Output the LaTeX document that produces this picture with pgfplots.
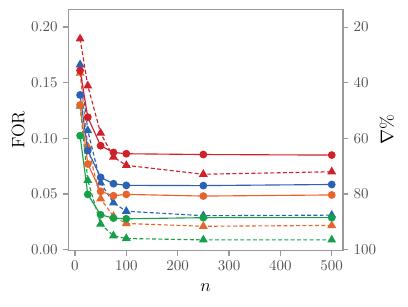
\documentclass[border=0pt]{standalone}
\usepackage{pgfplots}
\pgfplotsset{compat=1.18}
\definecolor{cred}{HTML}{D0202A}
\definecolor{cblue}{HTML}{2B62B4}
\definecolor{corange}{HTML}{E8642C}
\definecolor{cgreen}{HTML}{16A04A}
\definecolor{axgray}{HTML}{9A9A9A}
\definecolor{tickgray}{HTML}{555555}
\pgfplotsset{
  tri/.style={dashed, dash pattern=on 2.6pt off 1.6pt, line width=0.75pt, mark=triangle*, mark size=2.7pt, mark options={solid}},
  circ/.style={solid, line width=0.75pt, mark=*, mark size=2.2pt},
}
\begin{document}
\begin{tikzpicture}
\useasboundingbox (-45.5pt,-36.9pt) rectangle (226.4pt,167.1pt);
% right axis (nabla %)
\begin{axis}[at={(0,0)}, anchor=south west, scale only axis,
  width=183.1pt, height=160.9pt,
  xmin=-13, xmax=522, ymin=13.6, ymax=100.4, y dir=reverse,
  axis x line=none, axis y line*=right,
  axis line style={-, draw=axgray, line width=0.8pt},
  ytick={20,40,60,80,100},
  tick align=outside, major tick length=3.5pt,
  tick style={draw=axgray, line width=0.8pt},
  yticklabel style={text=tickgray},
  ylabel={$\nabla$\%},
  ylabel style={at={(axis description cs:1.16,0.5)}, anchor=center, rotate=0, font=\large},
]
\addplot[tri, color=cred] coordinates {(10,24.2) (25,41.1) (50,58.1) (75,66.7) (100,69.7) (250,72.9) (500,72.0)};
\addplot[tri, color=cblue] coordinates {(10,33.5) (25,57.2) (50,76.0) (75,83.2) (100,86.2) (250,87.8) (500,87.6)};
\addplot[tri, color=corange] coordinates {(10,36.5) (25,63.0) (50,81.7) (75,88.0) (100,90.6) (250,91.6) (500,91.3)};
\addplot[tri, color=cgreen] coordinates {(10,48.4) (25,75.1) (50,90.8) (75,95.0) (100,96.0) (250,96.5) (500,96.5)};
\end{axis}
% main axis (FOR)
\begin{axis}[at={(0,0)}, anchor=south west, scale only axis,
  width=183.1pt, height=160.9pt,
  xmin=-13, xmax=522, ymin=-0.0009, ymax=0.2159,
  axis line style={draw=axgray, line width=0.8pt},
  xtick={0,100,200,300,400,500},
  ytick={0,0.05,0.1,0.15,0.2},
  xtick pos=lower, ytick pos=left,
  tick align=outside, major tick length=3.5pt,
  tick style={draw=axgray, line width=0.8pt},
  ticklabel style={text=tickgray},
  yticklabel style={/pgf/number format/.cd, fixed, fixed zerofill, precision=2},
  scaled y ticks=false,
  xlabel={$n$}, ylabel={FOR},
  xlabel style={at={(axis description cs:0.5,-0.153)}, anchor=center, font=\large},
  ylabel style={at={(axis description cs:-0.182,0.5)}, anchor=center, font=\large},
]
\addplot[circ, color=cred] coordinates {(10,0.161) (25,0.119) (50,0.0934) (75,0.0874) (100,0.0862) (250,0.0855) (500,0.0850)};
\addplot[circ, color=cblue] coordinates {(10,0.139) (25,0.089) (50,0.065) (75,0.0593) (100,0.0578) (250,0.0576) (500,0.0586)};
\addplot[circ, color=corange] coordinates {(10,0.130) (25,0.077) (50,0.0524) (75,0.0485) (100,0.0497) (250,0.0482) (500,0.0492)};
\addplot[circ, color=cgreen] coordinates {(10,0.1024) (25,0.0497) (50,0.0314) (75,0.0284) (100,0.0278) (250,0.0288) (500,0.0288)};
\end{axis}
\end{tikzpicture}
\end{document}
